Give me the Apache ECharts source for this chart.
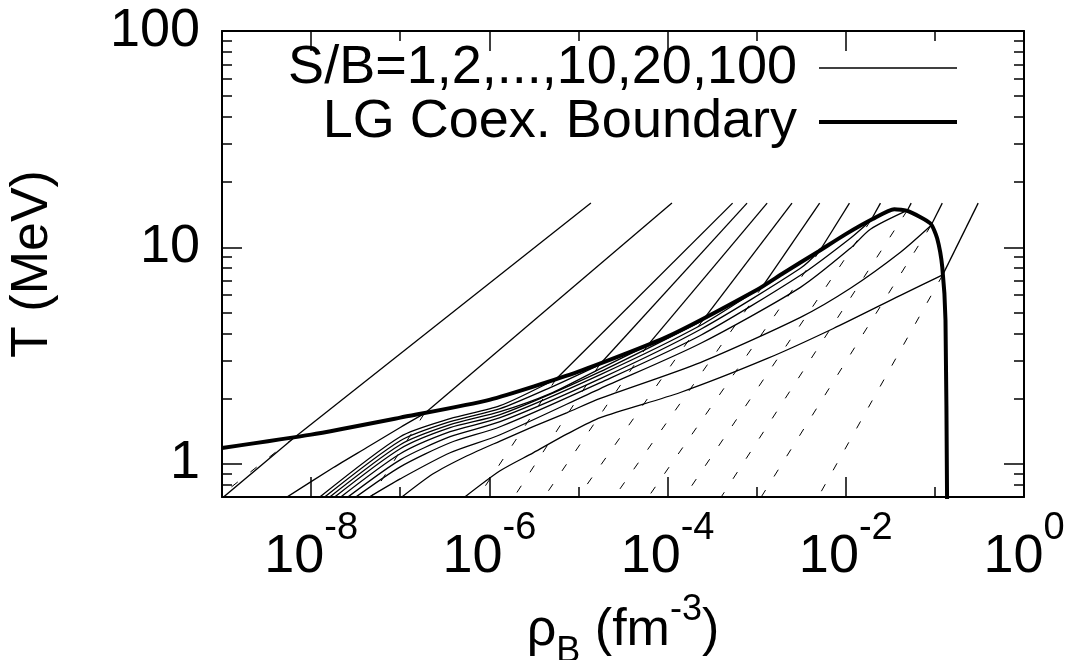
<!DOCTYPE html>
<html><head><meta charset="utf-8">
<script src="https://cdn.jsdelivr.net/npm/echarts@6/dist/echarts.min.js"></script>
<style>html,body{margin:0;padding:0;background:#fff}#c{width:1068px;height:660px}</style>
</head><body><div id="c"></div>
<script>
// ---------- axis values (real units) ----------
const xRange = [1e-9, 1];
const yRange = [0.7, 100];
const xMajorTicks = [1e-8, 1e-6, 1e-4, 1e-2, 1];
const xMinorTicks = [1e-7, 1e-5, 1e-3, 1e-1];
const yMajorTicks = [1, 10, 100];
const yMinorTicks = [0.8, 0.9, 2, 3, 4, 5, 6, 7, 8, 9, 20, 30, 40, 50, 60, 70, 80, 90];

// ---------- LG coexistence boundary ----------
const boundaryRho = [1e-9, 1e-8, 1e-7, 1e-6, 1e-5, 1e-4, 1e-3, 2e-3, 5e-3, 1e-2, 2e-2, 3.5e-2, 5e-2, 0.089, 0.106, 0.121, 0.1315, 0.137];
const boundaryT   = [1.18, 1.36, 1.63, 1.97, 2.66, 3.86, 6.34, 7.6, 9.6, 11.5, 13.5, 15.0, 14.7, 12.9, 11.0, 8.1, 4.6, 0.68];

// ---------- isentropes S/B = 1..10, 20, 100 ----------
const sbValues = [1, 2, 3, 4, 5, 6, 7, 8, 9, 10, 20, 100];
// inside the coexistence region: from the bottom edge up to the boundary crossing (last point)
const mixedRho = [
  [5.08e-7, 1.32e-6, 3.10e-6, 7.48e-6, 1.76e-5, 1.39e-4, 1.32e-3, 7.26e-3, 0.0411, 0.1224],
  [1.0e-7, 2.34e-7, 5.64e-7, 1.32e-6, 3.10e-6, 7.48e-6, 1.76e-5, 2.33e-4, 3.10e-3, 0.01127, 0.0411, 0.0904],
  [4.25e-8, 1e-7, 3.63e-7, 1.32e-6, 1.76e-5, 2.33e-4, 3.10e-3, 0.01127, 0.0189, 0.0490],
  [3.03e-8, 1e-7, 3.63e-7, 1.32e-6, 1.76e-5, 2.33e-4, 3.10e-3, 0.01127, 0.0191],
  [2.47e-8, 1e-7, 3.63e-7, 1.32e-6, 1.76e-5, 2.33e-4, 3.10e-3, 5.13e-3],
  [2.06e-8, 1e-7, 3.63e-7, 1.32e-6, 1.76e-5, 2.33e-4, 1.17e-3],
  [1.76e-8, 1e-7, 3.63e-7, 1.32e-6, 1.76e-5, 2.47e-4],
  [1.55e-8, 1e-7, 3.63e-7, 1.32e-6, 4.82e-6, 1.76e-5, 5.97e-5],
  [1.36e-8, 1e-7, 3.63e-7, 1.32e-6, 4.82e-6, 1.72e-5],
  [1.20e-8, 1e-7, 3.63e-7, 1.32e-6, 5.62e-6],
  [5.09e-9, 1.78e-8, 4.22e-8, 1.0e-7, 1.86e-7],
  [1e-9, 6.49e-9]
];
const mixedT = [
  [0.69, 0.925, 1.12, 1.37, 1.63, 2.13, 3.06, 4.21, 5.99, 7.45],
  [0.69, 0.896, 1.086, 1.27, 1.48, 1.72, 2.00, 2.93, 4.74, 6.46, 9.48, 12.6],
  [0.69, 0.849, 1.121, 1.358, 2.220, 3.589, 6.525, 9.895, 12.12, 14.8],
  [0.69, 0.965, 1.247, 1.479, 2.366, 3.908, 7.42, 11.01, 13.3],
  [0.69, 1.040, 1.330, 1.561, 2.470, 4.167, 7.99, 9.66],
  [0.69, 1.109, 1.403, 1.629, 2.578, 4.348, 6.61],
  [0.69, 1.170, 1.464, 1.682, 2.661, 4.58],
  [0.69, 1.221, 1.511, 1.736, 2.105, 2.748, 3.52],
  [0.69, 1.274, 1.561, 1.793, 2.244, 2.86],
  [0.69, 1.330, 1.611, 1.851, 2.46],
  [0.69, 0.958, 1.186, 1.468, 1.70],
  [0.69, 1.32]
];
// outside the region: straight line from the crossing to the top end of each curve
const gasTopRho = [0.306, 0.121, 0.0542, 0.0245, 0.0110, 5.09e-3, 2.49e-3, 1.31e-3, 7.80e-4, 5.37e-4, 1.12e-4, 1.38e-5];
const gasTopT = [16, 16, 16, 16, 16, 16, 16, 16, 16, 16, 16, 16];
// dashed continuation below the crossing: end points
const dashEndRho = [4.80e-3, 1.10e-3, 3.91e-4, 1.50e-4, 5.93e-5, 2.46e-5, 9.70e-6, 4.03e-6, 1.85e-6, 7.29e-7, 4.59e-8, 1e-9];
const dashEndT = [0.69, 0.69, 0.69, 0.69, 0.69, 0.69, 0.69, 0.69, 0.69, 0.69, 0.69, 0.72];

const legendThin = 'S/B=1,2,...,10,20,100';
const legendThick = 'LG Coex. Boundary';

// ---------- build ----------
const L = Math.log10;
const pts = (rx, ty) => rx.map((r, i) => [L(r), L(ty[i])]);
const FONT = 'Liberation Sans';
const black = '#000';
const thinStyle = { color: black, width: 1.3 };

const series = [];
mixedRho.forEach((rho, k) => {
  const n = rho.length - 1;
  series.push({
    name: legendThin, type: 'line', data: pts(rho, mixedT[k]),
    showSymbol: false, symbol: 'none', clip: true, z: 3, smooth: 0.25,
    lineStyle: thinStyle, itemStyle: { color: black }
  });
  series.push({
    name: legendThin, type: 'line',
    data: pts([rho[n], gasTopRho[k]], [mixedT[k][n], gasTopT[k]]),
    showSymbol: false, symbol: 'none', clip: true, z: 3,
    lineStyle: thinStyle, itemStyle: { color: black }
  });
  series.push({
    name: 'dash' + sbValues[k], type: 'line',
    data: pts([rho[n], dashEndRho[k]], [mixedT[k][n], dashEndT[k]]),
    showSymbol: false, symbol: 'none', clip: true, z: 2,
    lineStyle: { color: black, width: 1, type: [8, 16] }
  });
});
series.push({
  name: legendThick, type: 'line', data: pts(boundaryRho, boundaryT),
  showSymbol: false, symbol: 'none', clip: true, z: 4, smooth: 0.2,
  lineStyle: { color: black, width: 4 }, itemStyle: { color: black }
});

const xMin = L(xRange[0]), xMax = L(xRange[1]);
const yMin = L(yRange[0]), yMax = L(yRange[1]);

function xAxisDef(pos, ticks, len, showLine, showLabel) {
  return {
    type: 'value', position: pos, min: xMin, max: xMax,
    splitLine: { show: false },
    axisLine: { show: showLine, onZero: false, lineStyle: { color: black, width: 2 } },
    axisTick: { show: true, inside: true, length: len, customValues: ticks.map(L), lineStyle: { color: black, width: 1.5 } },
    axisLabel: showLabel ? {
      show: true, customValues: ticks.map(L), margin: 13,
      formatter: v => '{b|10}{s|' + Math.round(v) + '}',
      rich: {
        b: { fontFamily: FONT, fontSize: 54, lineHeight: 74, verticalAlign: 'bottom', color: black },
        s: { fontFamily: FONT, fontSize: 38, lineHeight: 40, verticalAlign: 'top', color: black }
      }
    } : { show: false }
  };
}
function yAxisDef(pos, ticks, len, showLine, showLabel) {
  return {
    type: 'value', position: pos, min: yMin, max: yMax,
    splitLine: { show: false },
    axisLine: { show: showLine, onZero: false, lineStyle: { color: black, width: 2 } },
    axisTick: { show: true, inside: true, length: len, customValues: ticks.map(L), lineStyle: { color: black, width: 1.5 } },
    axisLabel: showLabel ? {
      show: true, customValues: ticks.map(L), margin: 22,
      fontFamily: FONT, fontSize: 54, color: black,
      formatter: v => String(Math.round(Math.pow(10, v)))
    } : { show: false }
  };
}

const xAxes = [
  xAxisDef('bottom', xMajorTicks, 20, true, true),
  xAxisDef('bottom', xMinorTicks, 10, false, false),
  xAxisDef('top', xMajorTicks, 20, true, false),
  xAxisDef('top', xMinorTicks, 10, false, false)
];
Object.assign(xAxes[0], {
  name: '{b|ρ}{sub|B}{b| (fm}{sup|-3}{b|)}', nameLocation: 'middle', nameGap: 95,
  nameTextStyle: {
    rich: {
      b: { fontFamily: FONT, fontSize: 52, lineHeight: 78, verticalAlign: 'middle', color: black },
      sub: { fontFamily: FONT, fontSize: 36, lineHeight: 48, verticalAlign: 'bottom', color: black },
      sup: { fontFamily: FONT, fontSize: 36, lineHeight: 32, verticalAlign: 'top', color: black }
    }
  }
});
const yAxes = [
  yAxisDef('left', yMajorTicks, 20, true, true),
  yAxisDef('left', yMinorTicks, 10, false, false),
  yAxisDef('right', yMajorTicks, 20, true, false),
  yAxisDef('right', yMinorTicks, 10, false, false)
];
Object.assign(yAxes[0], {
  name: 'T (MeV)', nameLocation: 'middle', nameGap: 163, nameRotate: 90,
  nameTextStyle: { fontFamily: FONT, fontSize: 52, color: black }
});

const chart = echarts.init(document.getElementById('c'), null, { renderer: 'canvas' });
chart.setOption({
  animation: false,
  backgroundColor: '#fff',
  grid: { left: 222, right: 44, top: 31, bottom: 163, containLabel: false, outerBoundsMode: 'none' },
  legend: {
    data: [
      { name: legendThin, lineStyle: { width: 1.3, color: black } },
      { name: legendThick, lineStyle: { width: 4, color: black } }
    ],
    orient: 'vertical', align: 'right', right: 109, top: 41,
    itemWidth: 138, itemHeight: 14, itemGap: 0, padding: 0,
    selectedMode: false,
    itemStyle: { opacity: 0 },
    textStyle: { fontFamily: FONT, fontSize: 54, lineHeight: 52, color: black, padding: [0, 17, 0, 0] }
  },
  xAxis: xAxes,
  yAxis: yAxes,
  series: series
});
</script>
</body></html>
